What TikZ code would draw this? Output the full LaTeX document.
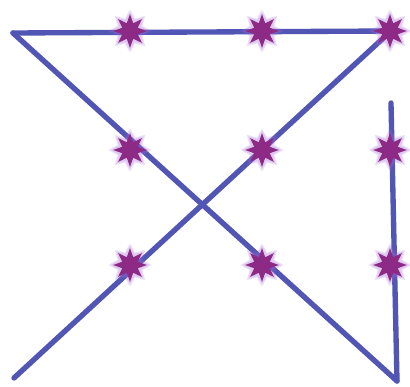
\documentclass[tikz,border=0pt]{standalone}
\usepackage{tikz}
\usepackage{xcolor}
\usetikzlibrary{shapes.geometric}
\definecolor{paper}{HTML}{FFFFFF}
\definecolor{penblue}{HTML}{5156B4}
\definecolor{starink}{HTML}{8C2A86}
\definecolor{starglow}{HTML}{A868D8}
\tikzset{
  penline/.style={draw=penblue,line width=3.8pt,line cap=round,line join=round},
  dotstar/.style={star,star points=8,star point ratio=2.0,
                  fill=starink,draw=none,minimum size=0.84cm,inner sep=0pt},
  dotglow/.style={star,star points=8,star point ratio=1.6,
                  fill=starglow,draw=none,inner sep=0pt,opacity=0.2}
}

\begin{document}
\begin{tikzpicture}[x=0.025cm,y=-0.025cm]
  \useasboundingbox[fill=paper] (0,0) rectangle (410,387);

  % corners of the four strokes
  \coordinate (start) at (13,33);
  \coordinate (turn) at (397,381);
  \coordinate (lowleft) at (14,378);
  \coordinate (endup) at (391,103);
  \coordinate (corner) at (391,31);

  % the one stroke path, in four pieces
  \draw[penline] (start) -- (corner);
  \draw[penline] (start) -- (turn);
  \draw[penline] (turn) -- (endup);
  \draw[penline] (lowleft) -- (corner);

  % nine dots with a soft halo
  \foreach \r/\yy in {a/31,b/150,c/265} {
    \foreach \c/\xx in {1/130,2/262,3/390} {
      \node[dotglow,minimum size=1.08cm] (h\r\c) at (\xx,\yy) {};
      \node[dotglow,minimum size=0.96cm] (g\r\c) at (\xx,\yy) {};
      \node[dotstar] (d\r\c) at (\xx,\yy) {};
    }
  }
\end{tikzpicture}
\end{document}
